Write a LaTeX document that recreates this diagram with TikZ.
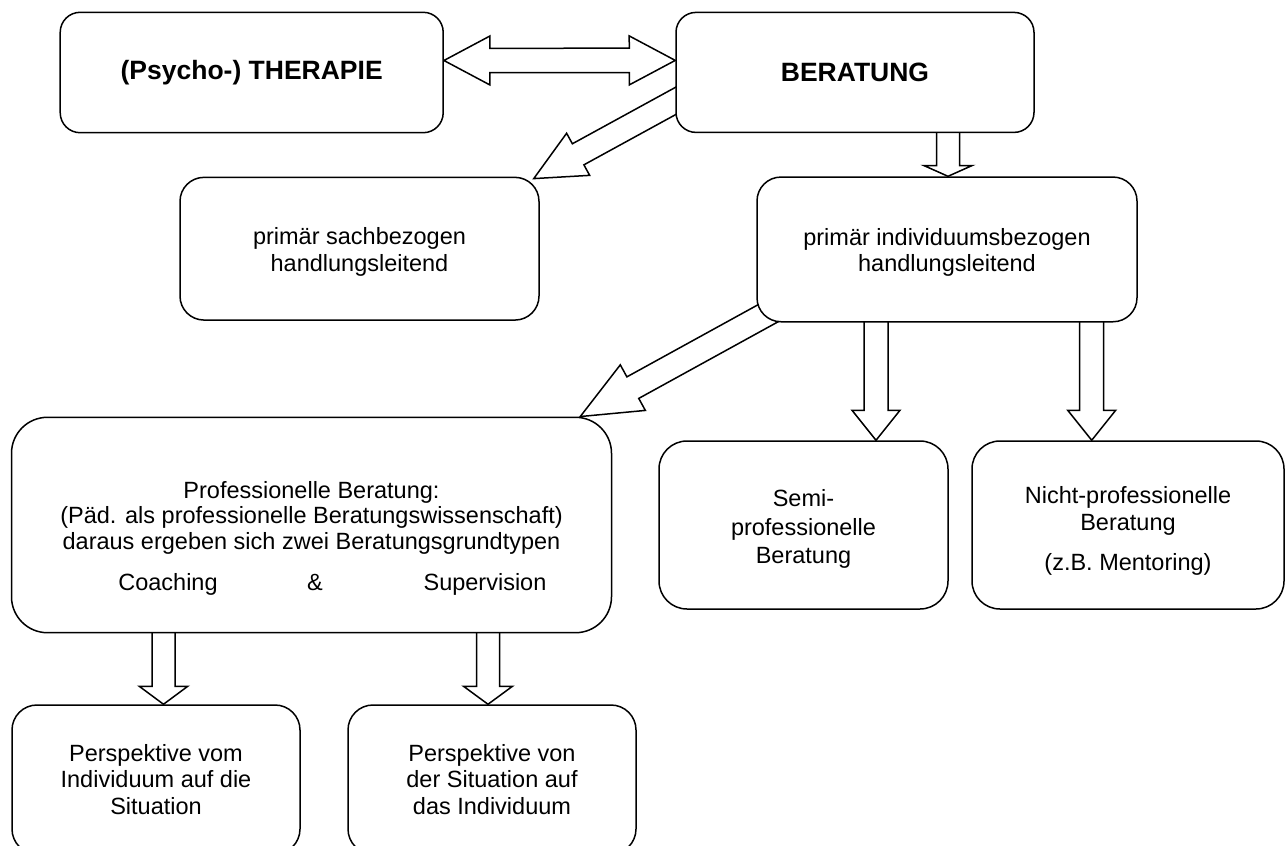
\documentclass[tikz,border=0pt]{standalone}
\usepackage{fontspec}
\setmainfont{Liberation Sans}
\usetikzlibrary{calc,backgrounds}

\tikzset{
  box/.style={draw=black, fill=white, line width=1.5pt, rectangle, inner sep=0pt,
    align=center, font=\fontsize{23.5}{26.8}\selectfont},
  titlebox/.style={box, font=\bfseries\fontsize{26.5}{30}\selectfont},
  blk/.style={draw=black, fill=white, line width=1.5pt, line join=miter},
  lbl/.style={inner sep=0pt, align=center, font=\fontsize{23.5}{26.8}\selectfont},
}

% block arrow: #1 tail, #2 tip, #3 half shaft width, #4 half head width, #5 head length
\newcommand\blkarrow[5]{%
  \path ($(#2)!#5!(#1)$) coordinate (bk-h);
  \draw[blk] ($(#1)!#3!90:(#2)$) -- ($(bk-h)!#3!90:(#2)$) -- ($(bk-h)!#4!90:(#2)$) -- (#2)
    -- ($(bk-h)!#4!-90:(#2)$) -- ($(bk-h)!#3!-90:(#2)$) -- ($(#1)!#3!-90:(#2)$) -- cycle;
}
% double block arrow between two tips
\newcommand\dblarrow[5]{%
  \path ($(#1)!#5!(#2)$) coordinate (db-a) ($(#2)!#5!(#1)$) coordinate (db-b);
  \draw[blk] (#1) -- ($(db-a)!#4!90:(#2)$) -- ($(db-a)!#3!90:(#2)$)
    -- ($(db-b)!#3!-90:(#1)$) -- ($(db-b)!#4!-90:(#1)$) -- (#2)
    -- ($(db-b)!#4!90:(#1)$) -- ($(db-b)!#3!90:(#1)$)
    -- ($(db-a)!#3!-90:(#2)$) -- ($(db-a)!#4!-90:(#2)$) -- cycle;
}

\begin{document}
\begin{tikzpicture}[x=1pt,y=-1pt]
\useasboundingbox (0,0) rectangle (1288,846);

\begin{scope}
\clip (0,0) rectangle (1288,846);
% top row
\node[titlebox, minimum width=383pt, minimum height=120.4pt, rounded corners=20pt] (ther) at (251.7,72.5) {(Psycho-) THERAPIE};
\node[titlebox, minimum width=358pt, minimum height=120pt, rounded corners=20pt] (ber) at (855,72.4) {BERATUNG};
% second row
\node[box, minimum width=359pt, minimum height=142.7pt, rounded corners=24pt] (sach) at (359.5,248.7) {};
\node[lbl] (sach-t) at ($(sach.center)+(0,3)$) {primär sachbezogen\\handlungsleitend};
\node[box, minimum width=380pt, minimum height=144.7pt, rounded corners=24pt] (indiv) at (947,249.4) {};
\node[lbl] (indiv-t) at ($(indiv.center)+(0,3)$) {primär individuumsbezogen\\handlungsleitend};
% third row
\node[box, minimum width=600pt, minimum height=215.4pt, rounded corners=36pt] (prof) at (311.5,525) {};
\node[lbl, font=\fontsize{23.5}{25.6}\selectfont] (prof-t) at ($(prof.center)+(0,-7.3)$) {Professionelle Beratung:\\(Päd. als professionelle Beratungswissenschaft)\\daraus ergeben sich zwei Beratungsgrundtypen};
\node[lbl, anchor=base] (coach) at ($(prof.center)+(-143.5,65)$) {Coaching};
\node[lbl, anchor=base] (amp) at ($(prof.center)+(3.5,65)$) {\&};
\node[lbl, anchor=base] (superv) at ($(prof.center)+(173.5,65)$) {Supervision};
\node[box, minimum width=289pt, minimum height=168pt, rounded corners=28pt] (semi) at (803.5,525) {};
\node[lbl] (semi-t) at ($(semi.center)+(0,4)$) {Semi-\\[1.7pt]professionelle\\[1.7pt]Beratung};
\node[box, minimum width=312pt, minimum height=168pt, rounded corners=28pt] (nicht) at (1128,525) {};
\node[lbl] (nicht-t) at ($(nicht.center)+(0,6)$) {Nicht-professionelle\\Beratung\\[13pt](z.B. Mentoring)};
% bottom row
\node[box, minimum width=288pt, minimum height=149pt, rounded corners=25pt] (persA) at (156,779.5) {Perspektive vom\\Individuum auf die\\Situation};
\node[box, minimum width=288pt, minimum height=149pt, rounded corners=25pt] (persB) at (492,779.5) {Perspektive von\\der Situation auf\\das Individuum};
\end{scope}

\begin{pgfonlayer}{background}
\fill[white] (0,0) rectangle (1288,846);
% therapy <-> counselling
\coordinate (dA) at ($(ther.east)+(0,-12)$);
\coordinate (dB) at ($(ber.west)+(0,-12)$);
\dblarrow{dA}{dB}{12.2pt}{24.5pt}{46pt}
% counselling -> subject related
\coordinate (s-tip) at ($(sach.north east)+(-6,2)$);
\coordinate (s-tail) at ($(ber.west)+(24,15.6)$);
\blkarrow{s-tail}{s-tip}{12pt}{24pt}{50.6pt}
% counselling -> individual related
\coordinate (i-tip) at ($(indiv.north)+(1,0)$);
\coordinate (i-tail) at ($(i-tip |- ber.south)+(0,-15)$);
\blkarrow{i-tail}{i-tip}{11.5pt}{24pt}{10.7pt}
% individual related -> professional
\coordinate (p-tip) at ($(prof.north east)+(-32,0)$);
\coordinate (p-tail) at ($(indiv.south west)+(43,-26.4)$);
\blkarrow{p-tail}{p-tip}{12.3pt}{26pt}{60pt}
% individual related -> semi-professional
\coordinate (m-tip) at ($(semi.north)+(72.5,0)$);
\coordinate (m-tail) at ($(m-tip |- indiv.south)+(0,-15)$);
\blkarrow{m-tail}{m-tip}{12pt}{24pt}{30pt}
% individual related -> non-professional
\coordinate (n-tip) at ($(nicht.north)+(-36.3,0)$);
\coordinate (n-tail) at ($(n-tip |- indiv.south)+(0,-15)$);
\blkarrow{n-tail}{n-tip}{12pt}{24pt}{30pt}
% professional -> perspectives
\coordinate (a-tip) at ($(persA.north)+(7.5,0)$);
\coordinate (a-tail) at ($(a-tip |- prof.south)+(0,-15)$);
\blkarrow{a-tail}{a-tip}{11.5pt}{24.3pt}{18pt}
\coordinate (b-tip) at ($(persB.north)+(-4,0)$);
\coordinate (b-tail) at ($(b-tip |- prof.south)+(0,-15)$);
\blkarrow{b-tail}{b-tip}{11.5pt}{24.5pt}{18pt}
\end{pgfonlayer}
\end{tikzpicture}
\end{document}
